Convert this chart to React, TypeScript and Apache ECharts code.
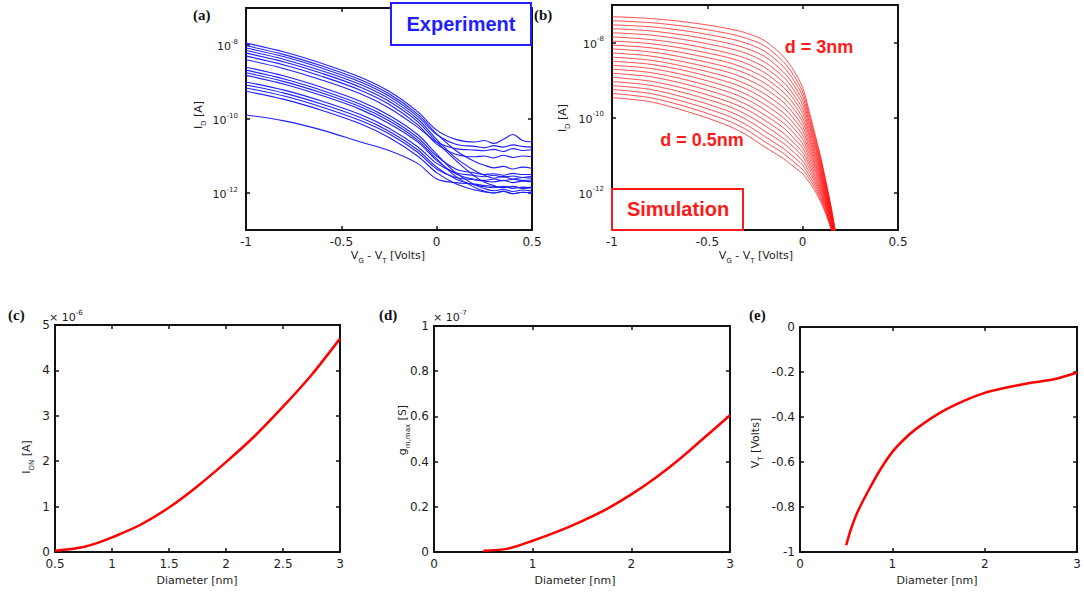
import React, { useEffect, useRef } from "react";
import * as echarts from "echarts";

// ---------- (a) Experiment: log10(I_D [A]) vs V_G - V_T ----------
const expX = [-1, -0.8, -0.6, -0.4, -0.25, -0.1, 0, 0.1, 0.2, 0.25, 0.3, 0.35, 0.4, 0.45, 0.5];
const expLogI: number[][] = [
  [-7.95, -8.19, -8.5, -8.87, -9.25, -9.8, -10.3, -10.55, -10.62, -10.58, -10.66, -10.55, -10.42, -10.58, -10.62],
  [-8.02, -8.26, -8.57, -8.94, -9.32, -9.87, -10.4, -10.85, -11.15, -11.25, -11.32, -11.28, -11.35, -11.3, -11.33],
  [-8.08, -8.32, -8.63, -9.0, -9.38, -9.93, -10.42, -10.68, -10.74, -10.78, -10.72, -10.76, -10.7, -10.74, -10.76],
  [-8.15, -8.39, -8.7, -9.07, -9.45, -10.0, -10.55, -11.05, -11.4, -11.52, -11.6, -11.55, -11.62, -11.58, -11.6],
  [-8.22, -8.46, -8.77, -9.14, -9.52, -10.07, -10.62, -11.12, -11.55, -11.7, -11.8, -11.86, -11.82, -11.88, -11.85],
  [-8.3, -8.54, -8.85, -9.22, -9.6, -10.15, -10.68, -10.95, -11.02, -11.0, -11.05, -10.98, -11.04, -11.0, -11.02],
  [-8.4, -8.64, -8.95, -9.32, -9.7, -10.22, -10.62, -10.8, -10.84, -10.86, -10.82, -10.88, -10.8, -10.85, -10.83],
  [-8.6, -8.84, -9.15, -9.52, -9.9, -10.42, -10.95, -11.45, -11.78, -11.88, -11.94, -11.9, -11.96, -11.92, -11.95],
  [-8.68, -8.92, -9.23, -9.6, -9.98, -10.5, -11.0, -11.35, -11.46, -11.5, -11.48, -11.52, -11.47, -11.5, -11.5],
  [-8.75, -8.99, -9.3, -9.67, -10.05, -10.57, -11.08, -11.55, -11.85, -11.95, -12.0, -11.96, -12.02, -11.98, -12.0],
  [-8.82, -9.06, -9.37, -9.74, -10.12, -10.62, -11.12, -11.48, -11.64, -11.68, -11.7, -11.66, -11.72, -11.68, -11.7],
  [-9.0, -9.22, -9.52, -9.88, -10.25, -10.75, -11.2, -11.45, -11.53, -11.56, -11.52, -11.57, -11.54, -11.58, -11.55],
  [-9.08, -9.3, -9.6, -9.96, -10.33, -10.83, -11.3, -11.62, -11.78, -11.83, -11.86, -11.82, -11.88, -11.84, -11.87],
  [-9.16, -9.38, -9.68, -10.04, -10.4, -10.9, -11.35, -11.58, -11.64, -11.66, -11.62, -11.67, -11.63, -11.66, -11.65],
  [-9.25, -9.47, -9.77, -10.13, -10.5, -11.0, -11.45, -11.75, -11.92, -11.97, -12.0, -11.95, -12.02, -11.98, -12.0],
  [-9.89, -10.05, -10.3, -10.62, -10.85, -11.2, -11.62, -11.72, -11.76, -11.8, -11.82, -11.85, -11.83, -11.86, -11.84],
];

// ---------- (b) Simulation: log10(I_D [A]) vs V_G - V_T, d = 0.5 .. 3 nm ----------
const simX = [-1, -0.8, -0.6, -0.4, -0.3, -0.2, -0.1, -0.05, 0, 0.03, 0.06, 0.09, 0.12, 0.15, 0.18];
const simDiameters = [0.5, 0.625, 0.75, 0.875, 1, 1.125, 1.25, 1.375, 1.5, 1.625, 1.75, 1.875, 2, 2.125, 2.25, 2.375, 2.5, 2.625, 2.75, 2.875, 3];
const simLogI: number[][] = [
  [-9.47, -9.58, -9.85, -10.2, -10.45, -10.78, -11.1, -11.3, -11.5, -11.7, -11.92, -12.2, -12.55, -13.0, -13.6],
  [-9.36, -9.47, -9.73, -10.07, -10.31, -10.64, -10.96, -11.17, -11.39, -11.6, -11.84, -12.14, -12.51, -12.97, -13.59],
  [-9.25, -9.36, -9.61, -9.94, -10.18, -10.5, -10.83, -11.04, -11.27, -11.51, -11.76, -12.08, -12.46, -12.94, -13.57],
  [-9.15, -9.25, -9.49, -9.81, -10.04, -10.36, -10.69, -10.91, -11.16, -11.41, -11.68, -12.01, -12.42, -12.91, -13.56],
  [-9.04, -9.14, -9.37, -9.68, -9.91, -10.21, -10.56, -10.78, -11.04, -11.31, -11.61, -11.95, -12.37, -12.88, -13.54],
  [-8.93, -9.03, -9.25, -9.56, -9.77, -10.07, -10.42, -10.66, -10.93, -11.21, -11.53, -11.89, -12.33, -12.85, -13.53],
  [-8.82, -8.91, -9.13, -9.43, -9.64, -9.93, -10.28, -10.53, -10.81, -11.12, -11.45, -11.83, -12.28, -12.82, -13.51],
  [-8.71, -8.8, -9.01, -9.3, -9.5, -9.79, -10.15, -10.4, -10.7, -11.02, -11.37, -11.76, -12.24, -12.79, -13.5],
  [-8.61, -8.69, -8.89, -9.17, -9.37, -9.65, -10.01, -10.27, -10.58, -10.92, -11.29, -11.7, -12.19, -12.76, -13.48],
  [-8.5, -8.58, -8.77, -9.04, -9.23, -9.51, -9.88, -10.14, -10.47, -10.82, -11.21, -11.64, -12.15, -12.73, -13.47],
  [-8.39, -8.47, -8.66, -8.91, -9.1, -9.37, -9.74, -10.01, -10.35, -10.73, -11.14, -11.58, -12.1, -12.7, -13.45],
  [-8.28, -8.36, -8.54, -8.78, -8.96, -9.22, -9.6, -9.88, -10.24, -10.63, -11.06, -11.51, -12.06, -12.67, -13.44],
  [-8.17, -8.25, -8.42, -8.65, -8.82, -9.08, -9.47, -9.75, -10.12, -10.53, -10.98, -11.45, -12.01, -12.64, -13.42],
  [-8.07, -8.14, -8.3, -8.52, -8.69, -8.94, -9.33, -9.62, -10.01, -10.43, -10.9, -11.39, -11.97, -12.61, -13.41],
  [-7.96, -8.03, -8.18, -8.39, -8.55, -8.8, -9.2, -9.49, -9.89, -10.34, -10.82, -11.33, -11.92, -12.58, -13.39],
  [-7.85, -7.92, -8.06, -8.27, -8.42, -8.66, -9.06, -9.37, -9.78, -10.24, -10.74, -11.26, -11.88, -12.55, -13.38],
  [-7.74, -7.8, -7.94, -8.14, -8.28, -8.52, -8.92, -9.24, -9.66, -10.14, -10.66, -11.2, -11.83, -12.52, -13.36],
  [-7.63, -7.69, -7.82, -8.01, -8.15, -8.37, -8.79, -9.11, -9.55, -10.04, -10.59, -11.14, -11.79, -12.49, -13.35],
  [-7.53, -7.58, -7.7, -7.88, -8.01, -8.23, -8.65, -8.98, -9.43, -9.95, -10.51, -11.08, -11.74, -12.46, -13.33],
  [-7.42, -7.47, -7.58, -7.75, -7.88, -8.09, -8.52, -8.85, -9.32, -9.85, -10.43, -11.01, -11.7, -12.43, -13.32],
  [-7.31, -7.36, -7.46, -7.62, -7.74, -7.95, -8.38, -8.72, -9.2, -9.75, -10.35, -10.95, -11.65, -12.4, -13.3],
];

// ---------- (c) I_ON (x1e-6 A) vs diameter ----------
const diameterC = [0.5, 0.625, 0.75, 0.875, 1, 1.25, 1.5, 1.75, 2, 2.25, 2.5, 2.75, 3];
const ionValues = [0.03, 0.06, 0.11, 0.2, 0.32, 0.6, 0.98, 1.45, 1.98, 2.55, 3.2, 3.9, 4.7];

// ---------- (d) g_m,max (x1e-7 S) vs diameter ----------
const diameterD = [0.5, 0.75, 1, 1.25, 1.5, 1.75, 2, 2.25, 2.5, 2.75, 3];
const gmValues = [0.005, 0.015, 0.05, 0.09, 0.137, 0.19, 0.255, 0.33, 0.415, 0.51, 0.605];

// ---------- (e) V_T (Volts) vs diameter ----------
const diameterE = [0.5, 0.55, 0.625, 0.75, 0.875, 1, 1.125, 1.25, 1.5, 1.75, 2, 2.25, 2.5, 2.75, 3];
const vtValues = [-0.97, -0.9, -0.82, -0.72, -0.63, -0.555, -0.5, -0.455, -0.385, -0.333, -0.293, -0.268, -0.248, -0.232, -0.202];

const logTickLabels = [-12, -10, -8];

const SANS = "'DejaVu Sans', 'Liberation Sans', Arial, sans-serif";
const SERIF = "'Liberation Serif', 'Times New Roman', serif";
const INK = "#111";
const TXT = "#1e1e1e";

const grids = [
  { left: 246, top: 8, width: 286, height: 222 },
  { left: 612, top: 5, width: 286, height: 225 },
  { left: 55, top: 325, width: 285, height: 227 },
  { left: 434, top: 326, width: 296, height: 226 },
  { left: 800, top: 327, width: 278, height: 225 },
];

const lineCommon = { show: true, onZero: false, lineStyle: { color: INK, width: 2 } };
const tickCommon = { show: true, inside: true, length: 4, lineStyle: { color: INK, width: 1.5 } };
const labelCommon = { fontFamily: SANS, fontSize: 12, lineHeight: 12, color: TXT };

function makeX(g: number, min: number, max: number, interval: number) {
  return [
    {
      type: "value", gridIndex: g, position: "bottom", min, max, interval,
      axisLine: lineCommon, axisTick: tickCommon,
      axisLabel: { ...labelCommon, margin: 6, showMinLabel: true, showMaxLabel: true },
      splitLine: { show: false },
    },
    {
      type: "value", gridIndex: g, position: "top", min, max, interval,
      axisLine: lineCommon, axisTick: tickCommon, axisLabel: { show: false }, splitLine: { show: false },
    },
  ];
}

function makeY(g: number, min: number, max: number, interval: number | null, log: boolean) {
  const base: any = { type: "value", gridIndex: g, min, max, splitLine: { show: false } };
  if (interval !== null) base.interval = interval;
  const tick: any = log ? { ...tickCommon, customValues: logTickLabels } : tickCommon;
  const label: any = log
    ? {
        ...labelCommon,
        margin: 8,
        customValues: logTickLabels,
        formatter: (v: number) => `{b|10}{s|${v}}`,
        rich: {
          b: { fontFamily: SANS, fontSize: 11, color: TXT, lineHeight: 14, verticalAlign: "bottom" },
          s: { fontFamily: SANS, fontSize: 7, color: TXT, lineHeight: 8, verticalAlign: "top" },
        },
      }
    : { ...labelCommon, margin: 5, showMinLabel: true, showMaxLabel: true };
  return [
    { ...base, position: "left", axisLine: lineCommon, axisTick: tick, axisLabel: label },
    { ...base, position: "right", axisLine: lineCommon, axisTick: tick, axisLabel: { show: false } },
  ];
}

const richAxis = {
  n: { fontFamily: SANS, fontSize: 11, color: TXT, lineHeight: 14, verticalAlign: "top" },
  sub: { fontFamily: SANS, fontSize: 7, color: TXT, lineHeight: 8, verticalAlign: "bottom" },
};

const richSup = {
  n: { fontFamily: SANS, fontSize: 11, color: TXT, lineHeight: 14, verticalAlign: "bottom" },
  sup: { fontFamily: SANS, fontSize: 7, color: TXT, lineHeight: 8, verticalAlign: "top" },
};

function txt(x: number, y: number, text: string, extra: any = {}, rotation = 0) {
  return {
    type: "text", x, y, rotation, z: 100,
    style: {
      text, align: "center", verticalAlign: "middle",
      fontFamily: SANS, fontSize: 11, fill: TXT, rich: richAxis, ...extra,
    },
  };
}

export default function App() {
  const ref = useRef<HTMLDivElement>(null);
  useEffect(() => {
    if (!ref.current) return;
    const chart = echarts.init(ref.current, undefined, { renderer: "svg" });

    const xAxis = [
      ...makeX(0, -1, 0.5, 0.5),
      ...makeX(1, -1, 0.5, 0.5),
      ...makeX(2, 0.5, 3, 0.5),
      ...makeX(3, 0, 3, 1),
      ...makeX(4, 0, 3, 1),
    ];
    const yAxis = [
      ...makeY(0, -13, -7, null, true),
      ...makeY(1, -13, -7, null, true),
      ...makeY(2, 0, 5, 1, false),
      ...makeY(3, 0, 1, 0.2, false),
      ...makeY(4, -1, 0, 0.2, false),
    ];

    const series: any[] = [];
    expLogI.forEach((curve, i) => {
      series.push({
        type: "line", name: `exp${i + 1}`, xAxisIndex: 0, yAxisIndex: 0,
        data: expX.map((x, j) => [x, curve[j]]),
        symbol: "none", smooth: 0.35, clip: true,
        lineStyle: { color: "#1f1fff", width: 1.1 },
      });
    });
    simLogI.forEach((curve, i) => {
      series.push({
        type: "line", name: `d=${simDiameters[i]}nm`, xAxisIndex: 2, yAxisIndex: 2,
        data: simX.map((x, j) => [x, curve[j]]),
        symbol: "none", smooth: 0.3, clip: true,
        lineStyle: { color: "rgba(255,20,20,0.75)", width: 1 },
      });
    });
    series.push({
      type: "line", name: "I_ON", xAxisIndex: 4, yAxisIndex: 4,
      data: diameterC.map((d, j) => [d, ionValues[j]]),
      symbol: "none", smooth: 0.3, clip: true,
      lineStyle: { color: "#ff0000", width: 2.5 },
    });
    series.push({
      type: "line", name: "gm_max", xAxisIndex: 6, yAxisIndex: 6,
      data: diameterD.map((d, j) => [d, gmValues[j]]),
      symbol: "none", smooth: 0.3, clip: true,
      lineStyle: { color: "#ff0000", width: 2.5 },
    });
    series.push({
      type: "line", name: "V_T", xAxisIndex: 8, yAxisIndex: 8,
      data: diameterE.map((d, j) => [d, vtValues[j]]),
      symbol: "none", smooth: 0.3, clip: true,
      lineStyle: { color: "#ff0000", width: 2.5 },
    });

    const panelFont = { fontFamily: SERIF, fontSize: 15, fontWeight: "bold", fill: "#111", align: "left" };
    const boldSans = "'Liberation Sans', Arial, sans-serif";

    const elements: any[] = [
      // panel letters
      txt(193, 15, "(a)", panelFont),
      txt(534, 15, "(b)", panelFont),
      txt(8, 315, "(c)", panelFont),
      txt(379, 315, "(d)", panelFont),
      txt(749, 315, "(e)", panelFont),
      // axis titles
      txt(388, 257, "{n|V}{sub|G}{n| - V}{sub|T}{n| [Volts]}"),
      txt(756, 257, "{n|V}{sub|G}{n| - V}{sub|T}{n| [Volts]}"),
      txt(200, 115, "{n|I}{sub|D}{n| [A]}", {}, Math.PI / 2),
      txt(564, 118, "{n|I}{sub|D}{n| [A]}", {}, Math.PI / 2),
      txt(197, 580, "Diameter [nm]"),
      txt(575, 580, "Diameter [nm]"),
      txt(937, 580, "Diameter [nm]"),
      txt(28, 457, "{n|I}{sub|ON}{n| [A]}", {}, Math.PI / 2),
      txt(404, 430, "{n|g}{sub|m,max}{n| [S]}", {}, Math.PI / 2),
      txt(757, 443, "{n|V}{sub|T}{n| [Volts]}", {}, Math.PI / 2),
      // exponent multipliers
      txt(49, 316, "{n|\u00d7 10}{sup|-6}", { align: "left", rich: richSup }),
      txt(433, 316, "{n|\u00d7 10}{sup|-7}", { align: "left", rich: richSup }),
      // Experiment box
      {
        type: "rect", z: 99,
        shape: { x: 391, y: 3, width: 140, height: 42 },
        style: { fill: "#ffffff", stroke: "#1f1fff", lineWidth: 2 },
      },
      txt(461, 24, "Experiment", { fontFamily: boldSans, fontSize: 20, fontWeight: "bold", fill: "#1f1fff" }),
      // Simulation box
      {
        type: "rect", z: 99,
        shape: { x: 612, y: 189, width: 131, height: 41 },
        style: { fill: "#ffffff", stroke: "#ff1a1a", lineWidth: 2 },
      },
      txt(678, 209, "Simulation", { fontFamily: boldSans, fontSize: 20, fontWeight: "bold", fill: "#ff1a1a" }),
      txt(819, 47, "d = 3nm", { fontFamily: boldSans, fontSize: 18, fontWeight: "bold", fill: "#ff1a1a" }),
      txt(702, 140, "d = 0.5nm", { fontFamily: boldSans, fontSize: 18, fontWeight: "bold", fill: "#ff1a1a" }),
    ];

    chart.setOption({
      animation: false,
      backgroundColor: "#ffffff",
      grid: grids.map((g) => ({ ...g, containLabel: false })),
      xAxis,
      yAxis,
      series,
      graphic: { elements },
    });
    return () => chart.dispose();
  }, []);

  return (
    <div
      ref={ref}
      style={{ position: "absolute", left: 0, top: 0, width: 1084, height: 592, background: "#fff" }}
    />
  );
}
